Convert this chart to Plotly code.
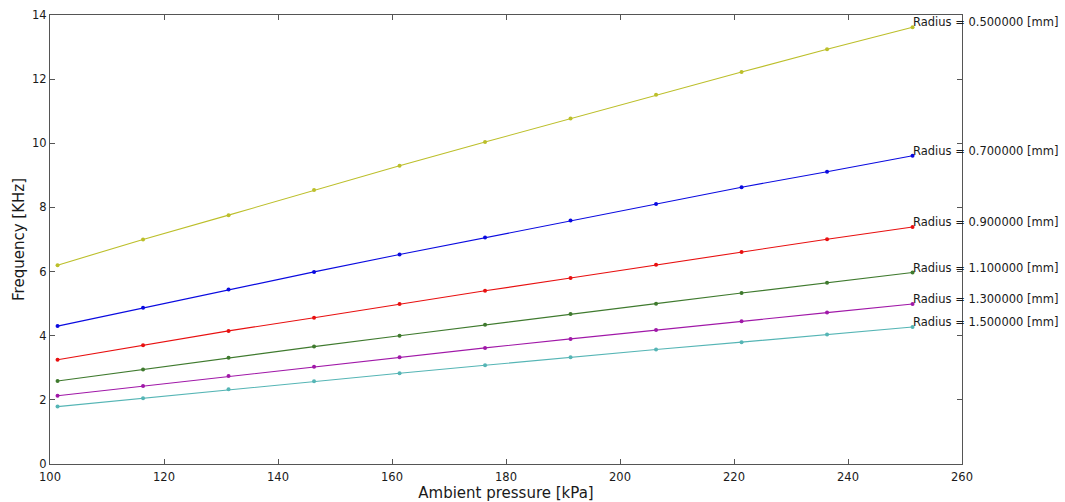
import plotly.graph_objects as go

pressure = [101.325, 116.325, 131.325, 146.325, 161.325, 176.325,
            191.325, 206.325, 221.325, 236.325, 251.325]

radii = [0.5, 0.7, 0.9, 1.1, 1.3, 1.5]

freq_r05 = [6.20, 7.00, 7.76, 8.54, 9.30, 10.04, 10.77, 11.51, 12.22, 12.93, 13.62]
freq_r07 = [4.30, 4.87, 5.44, 5.99, 6.53, 7.06, 7.59, 8.11, 8.63, 9.11, 9.61]
freq_r09 = [3.25, 3.70, 4.15, 4.56, 4.99, 5.40, 5.80, 6.21, 6.61, 7.01, 7.39]
freq_r11 = [2.59, 2.95, 3.31, 3.66, 4.00, 4.34, 4.68, 5.00, 5.33, 5.65, 5.97]
freq_r13 = [2.13, 2.43, 2.74, 3.03, 3.33, 3.62, 3.90, 4.18, 4.45, 4.72, 4.99]
freq_r15 = [1.79, 2.05, 2.33, 2.58, 2.83, 3.08, 3.33, 3.57, 3.80, 4.04, 4.27]

series = [freq_r05, freq_r07, freq_r09, freq_r11, freq_r13, freq_r15]
colors = ["#bcbf2a", "#0a0ae0", "#e81010", "#3f7a2e", "#a018a8", "#55b5b5"]

x_ticks = [100, 120, 140, 160, 180, 200, 220, 240, 260]
y_ticks = [0, 2, 4, 6, 8, 10, 12, 14]

FONT = "DejaVu Sans"
TXT = "#1a1a1a"

fig = go.Figure()
for r, ys, c in zip(radii, series, colors):
    fig.add_trace(go.Scatter(
        x=pressure, y=ys, mode="lines+markers",
        line=dict(color=c, width=1.1),
        marker=dict(color=c, size=4),
        name=f"Radius = {r:f} [mm]", showlegend=False,
        cliponaxis=False,
    ))
    fig.add_annotation(
        x=pressure[-1], y=ys[-1], xref="x", yref="y",
        text=f"Radius = {r:f} [mm]", showarrow=False,
        xanchor="left", yanchor="bottom", xshift=-2, yshift=-4,
        font=dict(family=FONT, size=11.5, color=TXT),
    )

axis_common = dict(
    showgrid=False, zeroline=False, showline=True, linecolor="#555555",
    linewidth=1, mirror="ticks", ticks="inside", ticklen=5,
    tickcolor="#555555", tickwidth=1,
    tickfont=dict(family=FONT, size=11.5, color=TXT),
)

fig.update_xaxes(
    range=[100, 260], tickvals=x_ticks, ticktext=[str(v) for v in x_ticks],
    ticklabelstandoff=2,
    title=dict(text="Ambient pressure [kPa]", standoff=2,
               font=dict(family=FONT, size=15, color=TXT)),
    **axis_common,
)
fig.update_yaxes(
    range=[0, 14], tickvals=y_ticks, ticktext=[str(v) for v in y_ticks],
    title=dict(text="Frequency [KHz]", standoff=3,
               font=dict(family=FONT, size=15, color=TXT)),
    **axis_common,
)

fig.update_layout(
    width=1065, height=502,
    margin=dict(l=50, r=103, t=15, b=38, autoexpand=False),
    plot_bgcolor="white", paper_bgcolor="white",
    font=dict(family=FONT),
)

fig.write_html("out.html")
